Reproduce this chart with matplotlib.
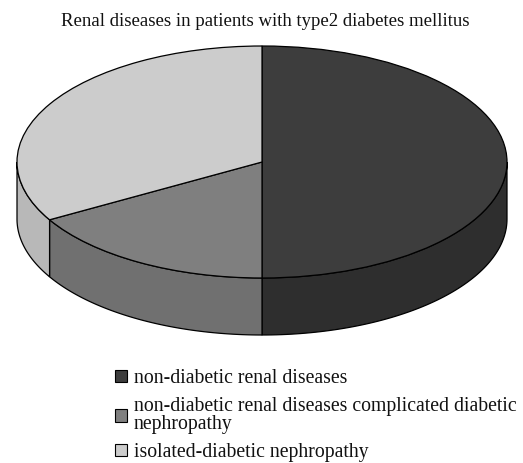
import numpy as np
import matplotlib
matplotlib.use("Agg")
import matplotlib.pyplot as plt
from matplotlib.patches import Patch, Polygon

title = "Renal diseases in patients with type2 diabetes mellitus"
labels = ["non-diabetic renal diseases",
          "non-diabetic renal diseases complicated diabetic\nnephropathy",
          "isolated-diabetic nephropathy"]
values = [50.0, 16.7, 33.3]
top_colors = ["#3d3d3d", "#7f7f7f", "#cccccc"]
side_colors = ["#2e2e2e", "#707070", "#b8b8b8"]

W, H = 523, 463
CX, CY, RX, RY, DEPTH = 262, 162, 245, 116, 57
plt.rcParams['font.family'] = ['Liberation Serif', 'DejaVu Serif']
fig = plt.figure(figsize=(W / 100, H / 100), dpi=100)
ax = fig.add_axes([0, 0, 1, 1])

ax.pie(values, colors=top_colors, startangle=90, counterclock=False, radius=1,
       wedgeprops=dict(edgecolor="black", linewidth=0.9, zorder=3))
ax.set_aspect("auto")
ax.set_xlim(-CX / RX, (W - CX) / RX)
ax.set_ylim((CY - H) / RY, CY / RY)
d = DEPTH / RY

# side wall: the visible lower half of the rim
cum = 0.0
total = sum(values)
for v, c in zip(values, side_colors):
    a1 = 90 - 360 * cum / total
    a2 = 90 - 360 * (cum + v) / total
    cum += v
    lo, hi = max(min(a1, a2), -180), min(max(a1, a2), 0)
    if lo < hi:
        t = np.radians(np.linspace(lo, hi, 80))
        x, y = np.cos(t), np.sin(t)
        pts = np.r_[np.c_[x, y], np.c_[x[::-1], y[::-1] - d]]
        ax.add_patch(Polygon(pts, closed=True, facecolor=c, edgecolor="black",
                             linewidth=0.9, zorder=2))

ax.set_xticks([])
ax.set_yticks([])
ax.axis("off")

fig.text(265 / W, 1 - 21 / H, title, ha="center", va="center", fontsize=13.5, color="#111111")

handles = [Patch(facecolor=c, edgecolor="black", linewidth=0.8) for c in top_colors]
leg = fig.legend(handles, labels, loc="upper left", bbox_to_anchor=(115 / W, 1 - 369 / H),
                 frameon=False, fontsize=14.2, handlelength=0.62, handleheight=0.62,
                 handletextpad=0.34, labelspacing=0.45, labelcolor="#111111",
                 borderpad=0, borderaxespad=0)
for txt in leg.get_texts():
    txt.set_linespacing(0.95)
fig.savefig("out.png", dpi=100)
